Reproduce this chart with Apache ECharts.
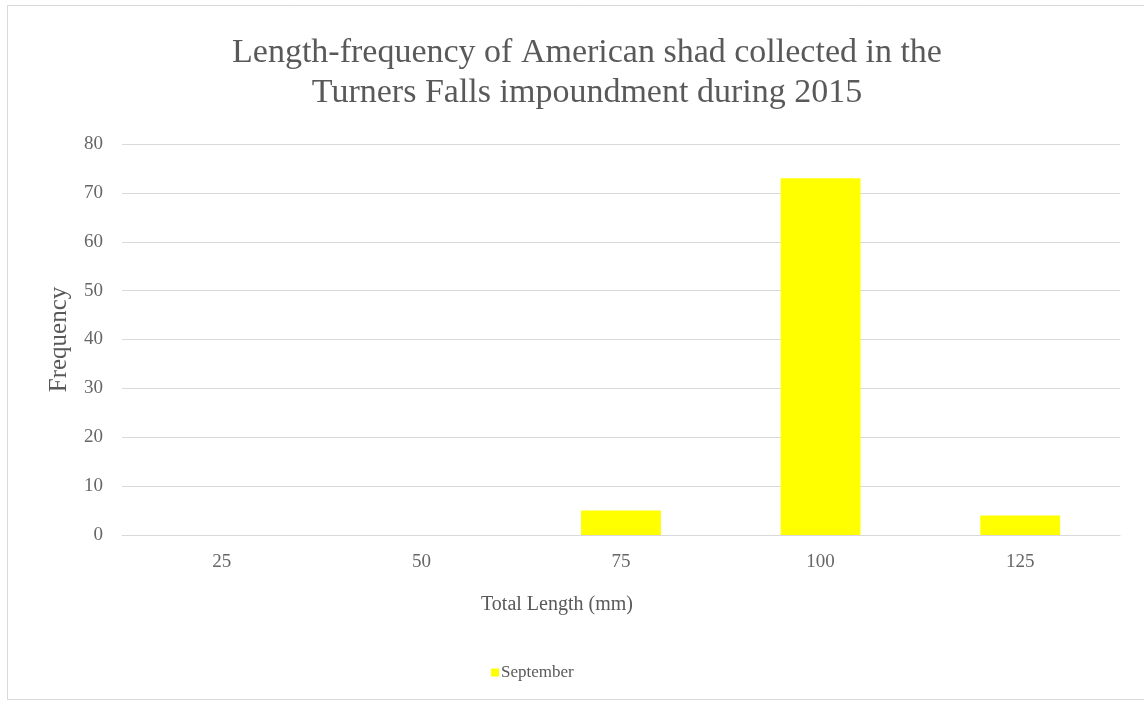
<!DOCTYPE html>
<html><head><meta charset="utf-8">
<script src="https://cdn.jsdelivr.net/npm/echarts@6/dist/echarts.min.js"></script>
<style>html,body{margin:0;padding:0;background:#fff}#c{width:1144px;height:703px}</style>
</head><body><div id="c"></div>
<script>
const categories = ['25', '50', '75', '100', '125'];
const september = [0, 0, 5, 73, 4];
const seriesName = 'September';
const titleText = 'Length-frequency of American shad collected in the\nTurners Falls impoundment during 2015';

const chart = echarts.init(document.getElementById('c'));
chart.setOption({
  backgroundColor: '#fff',
  animation: false,
  graphic: [{
    type: 'rect', shape: { x: 7.5, y: 5.5, width: 1150, height: 694 },
    style: { fill: 'none', stroke: '#d9d9d9', lineWidth: 1 }, silent: true
  }],
  title: {
    text: titleText, left: 582, top: 28, textAlign: 'center',
    textStyle: { fontFamily: 'Liberation Serif', fontSize: 34, fontWeight: 'normal', color: '#595959', lineHeight: 40 }
  },
  legend: {
    data: [seriesName], left: 486, top: 659, itemWidth: 8, itemHeight: 8, icon: 'rect', itemGap: 4,
    textStyle: { fontFamily: 'Liberation Serif', fontSize: 17, color: '#595959', padding: [0, 0, 0, -3] }
  },
  grid: { left: 122, right: 24, top: 144, bottom: 168 },
  xAxis: {
    type: 'category', data: categories,
    name: 'Total Length (mm)', nameLocation: 'middle', nameGap: 60,
    nameTextStyle: { fontFamily: 'Liberation Serif', fontSize: 20, color: '#595959', padding: [0, 128, 0, 0] },
    axisLine: { show: true, lineStyle: { color: '#d9d9d9' } },
    axisTick: { show: false },
    axisLabel: { fontFamily: 'Liberation Serif', fontSize: 19, color: '#666666', margin: 18 }
  },
  yAxis: {
    type: 'value', min: 0, max: 80, interval: 10,
    name: 'Frequency', nameLocation: 'middle', nameGap: 50,
    nameTextStyle: { fontFamily: 'Liberation Serif', fontSize: 25, color: '#595959' },
    axisLine: { show: false }, axisTick: { show: false },
    axisLabel: { fontFamily: 'Liberation Serif', fontSize: 19, color: '#666666', margin: 19 },
    splitLine: { lineStyle: { color: '#d9d9d9' } }
  },
  series: [{
    name: seriesName, type: 'bar', data: september, barWidth: '40%',
    itemStyle: { color: '#FFFF00' }
  }]
});
</script></body></html>
